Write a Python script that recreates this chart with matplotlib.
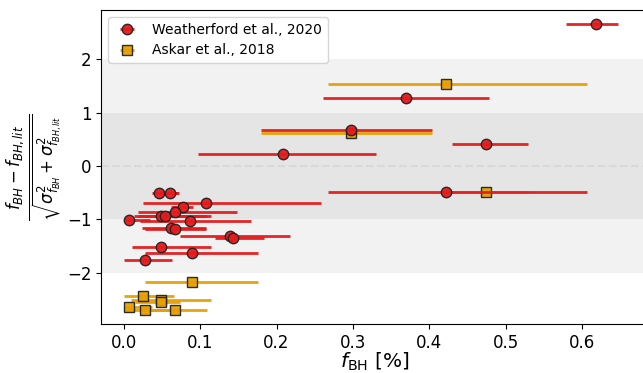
import numpy as np
import matplotlib.pyplot as plt

# Weatherford et al., 2020 : f_BH [%], normalised difference, x-errors (lower, upper)
w_x = [0.618, 0.369, 0.297, 0.474, 0.209, 0.422, 0.046, 0.060, 0.108, 0.078, 0.067,
       0.048, 0.054, 0.007, 0.086, 0.062, 0.067, 0.139, 0.143, 0.049, 0.089, 0.027]
w_y = [2.66, 1.27, 0.67, 0.41, 0.22, -0.49, -0.50, -0.50, -0.69, -0.76, -0.86,
       -0.93, -0.94, -1.02, -1.04, -1.16, -1.19, -1.32, -1.35, -1.51, -1.63, -1.76]
w_lo = [0.039, 0.108, 0.118, 0.044, 0.112, 0.154, 0.008, 0.023, 0.083, 0.016, 0.048,
        0.035, 0.035, 0.007, 0.065, 0.038, 0.040, 0.065, 0.023, 0.039, 0.061, 0.027]
w_hi = [0.030, 0.109, 0.107, 0.055, 0.121, 0.185, 0.026, 0.011, 0.150, 0.013, 0.081,
        0.066, 0.055, 0.027, 0.080, 0.046, 0.040, 0.079, 0.040, 0.065, 0.087, 0.036]

# Askar et al., 2018
a_x = [0.422, 0.297, 0.474, 0.089, 0.025, 0.048, 0.049, 0.007, 0.027, 0.067]
a_y = [1.53, 0.62, -0.49, -2.18, -2.44, -2.51, -2.54, -2.64, -2.69, -2.69]
a_lo = [0.154, 0.118, 0.047, 0.061, 0.025, 0.039, 0.035, 0.007, 0.027, 0.043]
a_hi = [0.185, 0.107, 0.055, 0.087, 0.041, 0.066, 0.024, 0.030, 0.036, 0.042]

red = '#e41a1c'
orange = '#e69f00'

fig = plt.figure(figsize=(6.43, 3.73), dpi=100)
ax = fig.add_axes([101/643, 49/373, 548/643, 314/373])

ax.axhspan(-2, 2, color='#f2f2f2', zorder=0, lw=0)
ax.axhspan(-1, 1, color='#e5e5e5', zorder=0, lw=0)
ax.axhline(0, ls='--', color='#d9d9d9', lw=1.5, zorder=0.5)

ax.errorbar(w_x, w_y, xerr=[w_lo, w_hi], fmt='o', color=red, ecolor=red,
            elinewidth=2, markersize=7.5, mec='#222222', mew=1, alpha=0.95,
            label='Weatherford et al., 2020', zorder=3)
ax.errorbar(a_x, a_y, xerr=[a_lo, a_hi], fmt='s', color=orange, ecolor=orange,
            elinewidth=2, markersize=7.5, mec='#222222', mew=1, alpha=0.95,
            label='Askar et al., 2018', zorder=2)

ax.set_xlim(-0.03, 0.688)
ax.set_ylim(-2.96, 2.92)
ax.set_xticks([0.0, 0.1, 0.2, 0.3, 0.4, 0.5, 0.6])
ax.set_yticks([-2, -1, 0, 1, 2])
ax.tick_params(labelsize=12)

ax.set_xlabel(r'$f_{\rm BH}$ [%]', fontsize=14.5, labelpad=-1)
ax.set_ylabel(r'$\frac{f_{BH} - f_{BH,lit}}{\sqrt{\sigma^2_{f_{BH}} + \sigma^2_{f_{BH,lit}}}}$',
              fontsize=17, labelpad=2)
ax.legend(loc='upper left', fontsize=10)

fig.savefig('out.png', dpi=100)
